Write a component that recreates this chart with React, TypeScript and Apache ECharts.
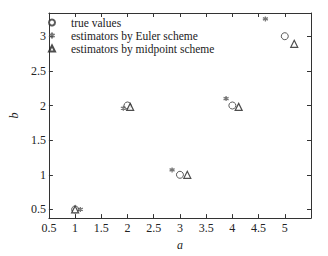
import React, { useEffect, useRef } from "react";
import * as echarts from "echarts";

const xTicks = [0.5, 1, 1.5, 2, 2.5, 3, 3.5, 4, 4.5, 5];
const yTicks = [0.5, 1, 1.5, 2, 2.5, 3];
const trueValues: [number, number][] = [[1, 0.5], [2, 2], [3, 1], [4, 2], [5, 3]];
const eulerValues: [number, number][] = [[1.1, 0.5], [1.92, 1.96], [2.85, 1.07], [3.88, 2.1], [4.63, 3.25]];
const midpointValues: [number, number][] = [[1.0, 0.5], [2.05, 1.98], [3.14, 1.0], [4.12, 1.98], [5.18, 2.89]];
const seriesNames = ["true values", "estimators by Euler scheme", "estimators by midpoint scheme"];

const FONT = "Liberation Serif";
const AX = "#333";

export default function App() {
  const ref = useRef<HTMLDivElement>(null);
  useEffect(() => {
    if (!ref.current) return;
    const chart = echarts.init(ref.current, undefined, { renderer: "svg" });
    const baseX = {
      type: "value" as const,
      min: 0.5,
      max: 5.5,
      splitLine: { show: false },
      axisLine: { show: true, lineStyle: { color: AX, width: 1 } },
      axisTick: { show: true, inside: true, length: 4, customValues: xTicks, lineStyle: { color: AX } },
    };
    const baseY = {
      type: "value" as const,
      min: 0.375,
      max: 3.335,
      splitLine: { show: false },
      axisLine: { show: true, lineStyle: { color: AX, width: 1 } },
      axisTick: { show: true, inside: true, length: 4, customValues: yTicks, lineStyle: { color: AX } },
    };
    chart.setOption({
      animation: false,
      backgroundColor: "#fff",
      textStyle: { fontFamily: FONT },
      grid: { left: 35, right: 17, top: 13, bottom: 29 },
      xAxis: [
        {
          ...baseX,
          position: "bottom",
          name: "a",
          nameLocation: "middle",
          nameGap: 18,
          nameTextStyle: { fontFamily: FONT, fontStyle: "italic", fontSize: 12, color: "#222" },
          axisLabel: { customValues: xTicks, fontFamily: FONT, fontSize: 12, color: "#222", margin: 4 },
        },
        { ...baseX, position: "top", axisLabel: { show: false } },
      ],
      yAxis: [
        {
          ...baseY,
          position: "left",
          name: "b",
          nameLocation: "middle",
          nameGap: 23,
          nameTextStyle: { fontFamily: FONT, fontStyle: "italic", fontSize: 12, color: "#222" },
          axisLabel: { customValues: yTicks, fontFamily: FONT, fontSize: 12, color: "#222", margin: 3 },
        },
        { ...baseY, position: "right", axisLabel: { show: false } },
      ],
      legend: {
        orient: "vertical",
        left: 48,
        top: 16,
        padding: 0,
        itemWidth: 6,
        itemHeight: 6,
        itemGap: 0,
        textStyle: { fontFamily: FONT, fontSize: 11.5, lineHeight: 13, color: "#222", padding: [0, 0, 0, 11] },
        data: seriesNames,
      },
      series: [
        {
          name: seriesNames[0],
          type: "scatter",
          data: trueValues,
          symbol: "circle",
          symbolSize: 7,
          itemStyle: { color: "#fff", borderColor: "#333", borderWidth: 1 },
        },
        {
          name: seriesNames[1],
          type: "scatter",
          data: eulerValues,
          symbol: "path://M0,-1L0,1M-0.87,-0.5L0.87,0.5M-0.87,0.5L0.87,-0.5",
          symbolSize: 5,
          itemStyle: { color: "#555", borderColor: "#555", borderWidth: 1.3 },
        },
        {
          name: seriesNames[2],
          type: "scatter",
          data: midpointValues,
          symbol: "triangle",
          symbolSize: 7,
          itemStyle: { color: "#fff", borderColor: "#222", borderWidth: 1.2 },
        },
      ],
    });
    return () => chart.dispose();
  }, []);
  return <div ref={ref} style={{ position: "absolute", left: 0, top: 0, width: 328, height: 256 }} />;
}
